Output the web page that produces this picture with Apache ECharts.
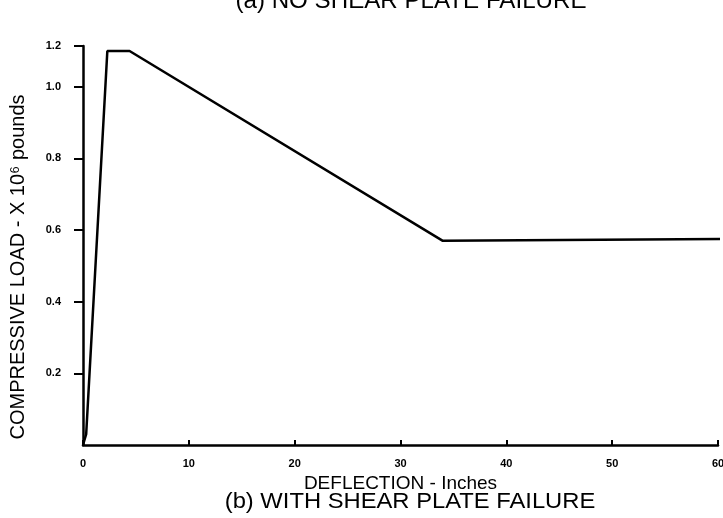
<!DOCTYPE html>
<html><head><meta charset="utf-8">
<script src="https://cdn.jsdelivr.net/npm/echarts@6/dist/echarts.min.js"></script>
<style>html,body{margin:0;padding:0;background:#fff}#c{width:723px;height:518px}</style>
</head><body><div id="c"></div>
<script>
const deflection = [0, 0.3, 2.3, 4.4, 34.0, 60.5];
const load = [0.0, 0.03, 1.1, 1.1, 0.57, 0.575];
const xTicks = [0, 10, 20, 30, 40, 50, 60];
const yTickValues = [0.2, 0.4, 0.6, 0.8, 1.0, 1.114];
const yTickLabels = ['0.2', '0.4', '0.6', '0.8', '1.0', '1.2'];
const topTitle = '(a) NO SHEAR PLATE FAILURE';
const bottomTitle = '(b) WITH SHEAR PLATE FAILURE';
const xName = 'DEFLECTION - Inches';
const yName = 'COMPRESSIVE LOAD - X 10\u2076 pounds';

const chart = echarts.init(document.getElementById('c'), null, {renderer: 'canvas'});
const font = 'Liberation Sans, Arial, sans-serif';
chart.setOption({
  animation: false,
  backgroundColor: '#fff',
  grid: {left: 83, right: 5, top: 46, bottom: 73, outerBoundsMode: 'none'},
  xAxis: {
    type: 'value', min: 0, max: 60, interval: 10,
    name: xName, nameLocation: 'middle', nameGap: 25,
    nameTextStyle: {fontFamily: font, fontSize: 19, color: '#000'},
    axisLine: {show: true, lineStyle: {color: '#000', width: 2.5}},
    axisTick: {show: true, inside: true, length: 5, lineStyle: {color: '#000', width: 2}},
    axisLabel: {fontFamily: font, fontSize: 11, fontWeight: 'bold', color: '#000', margin: 13,
      customValues: xTicks},
    splitLine: {show: false}
  },
  yAxis: {
    type: 'value', min: 0, max: 1.114,
    axisLine: {show: true, lineStyle: {color: '#000', width: 2.5}},
    axisTick: {show: true, length: 9, lineStyle: {color: '#000', width: 2}, customValues: yTickValues},
    axisLabel: {fontFamily: font, fontSize: 11, fontWeight: 'bold', color: '#000', margin: 22,
      customValues: yTickValues,
      formatter: function (v) { const i = yTickValues.indexOf(v); return i >= 0 ? yTickLabels[i] : ''; }},
    splitLine: {show: false}
  },
  graphic: [
    {type: 'text', x: 411, y: 13, scaleX: 1.05,
      style: {text: topTitle, font: '23px ' + font, fill: '#000', align: 'center', verticalAlign: 'bottom'}},
    {type: 'text', x: 410, y: 502, scaleX: 1.08,
      style: {text: bottomTitle, font: '22px ' + font, fill: '#000', align: 'center', verticalAlign: 'middle'}},
    {type: 'text', x: 18, y: 267, rotation: Math.PI / 2,
      style: {text: yName, font: '20px ' + font, fill: '#000', align: 'center', verticalAlign: 'middle'}}
  ],
  series: [{
    type: 'line', data: deflection.map((d, i) => [d, load[i]]),
    showSymbol: false, clip: false,
    lineStyle: {color: '#000', width: 2.5}
  }]
});
</script></body></html>
